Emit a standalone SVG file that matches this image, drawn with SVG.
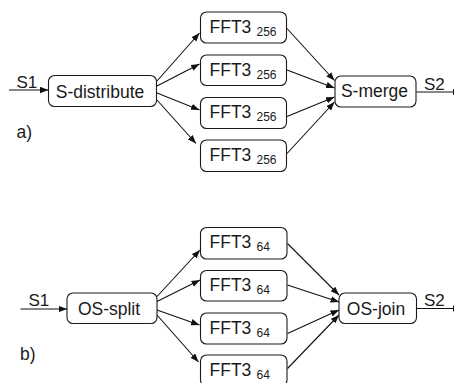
<svg xmlns="http://www.w3.org/2000/svg" width="454" height="383" viewBox="0 0 454 383">
<defs>
<style>
.box{fill:#fff;stroke:#1a1a1a;stroke-width:1.1}
.t{font-family:"Liberation Sans",Arial,sans-serif;font-size:17.5px;fill:#1a1a1a}
.s{font-size:12px}
.c line{stroke:#111;stroke-width:1.1;marker-end:url(#ah)}
</style>
<marker id="ah" markerUnits="userSpaceOnUse" markerWidth="9" markerHeight="7" refX="8.5" refY="3.25" orient="auto">
<path d="M0,0 L8.5,3.25 L0,6.5 z" fill="#111"/>
</marker>
</defs>
<rect width="454" height="383" fill="#fff"/>

<g class="c" id="connectors">
<line x1="9" y1="90" x2="48.5" y2="90"/>
<line x1="157" y1="81" x2="199.5" y2="33"/>
<line x1="157" y1="86" x2="199.5" y2="64"/>
<line x1="157" y1="93" x2="199.5" y2="110"/>
<line x1="157" y1="100" x2="196" y2="143.5"/>
<line x1="287" y1="28.5" x2="334.5" y2="80.5"/>
<line x1="287" y1="70" x2="334.5" y2="88"/>
<line x1="287" y1="116.5" x2="334.5" y2="97"/>
<line x1="287" y1="153.5" x2="334.5" y2="102"/>
<line x1="416.5" y1="92" x2="461" y2="92"/>

<line x1="20.5" y1="309" x2="67" y2="309"/>
<line x1="157" y1="296.5" x2="200" y2="250"/>
<line x1="157" y1="301.5" x2="200" y2="280"/>
<line x1="157" y1="310" x2="199.5" y2="325"/>
<line x1="157" y1="315" x2="198.5" y2="362"/>
<line x1="287.5" y1="243.5" x2="339" y2="295"/>
<line x1="287.5" y1="285" x2="339" y2="302"/>
<line x1="287.5" y1="333.5" x2="339" y2="310"/>
<line x1="287.5" y1="368.5" x2="339" y2="315"/>
<line x1="417" y1="308.5" x2="461" y2="308.5"/>
</g>

<g id="labels">
<text class="t" x="16.5" y="87.5" style="font-size:17px">S1</text>
<text class="t" x="424" y="89.5" style="font-size:17px">S2</text>
<text class="t" x="16.5" y="138">a)</text>
<text class="t" x="28.5" y="306" style="font-size:17px">S1</text>
<text class="t" x="424" y="306" style="font-size:17px">S2</text>
<text class="t" x="20" y="360">b)</text>
</g>

<g id="s-distribute"><rect class="box" x="48.5" y="75.5" width="108" height="31" rx="6"/><text class="t" x="100" y="97.5" text-anchor="middle">S-distribute</text></g>
<g id="fft256-1"><rect class="box" x="200.5" y="12" width="86" height="31" rx="6"/><text class="t" x="209.5" y="32.5">FFT3<tspan class="s" x="256.5" dy="3.4">256</tspan></text></g>
<g id="fft256-2"><rect class="box" x="200.5" y="55" width="86" height="30.5" rx="6"/><text class="t" x="209.5" y="75.5">FFT3<tspan class="s" x="256.5" dy="3.4">256</tspan></text></g>
<g id="fft256-3"><rect class="box" x="200.5" y="97.5" width="86" height="31" rx="6"/><text class="t" x="209.5" y="118">FFT3<tspan class="s" x="256.5" dy="3.4">256</tspan></text></g>
<g id="fft256-4"><rect class="box" x="200.5" y="140" width="86" height="31.5" rx="6"/><text class="t" x="209.5" y="160.5">FFT3<tspan class="s" x="256.5" dy="3.4">256</tspan></text></g>
<g id="s-merge"><rect class="box" x="335" y="76" width="81" height="31" rx="6"/><text class="t" x="374.5" y="97" text-anchor="middle">S-merge</text></g>

<g id="os-split"><rect class="box" x="67" y="293" width="90" height="30.5" rx="6"/><text class="t" x="109" y="314.5" text-anchor="middle">OS-split</text></g>
<g id="fft64-1"><rect class="box" x="200.5" y="227.5" width="86.5" height="31.5" rx="6"/><text class="t" x="209.5" y="248">FFT3<tspan class="s" x="256.5" dy="3.4">64</tspan></text></g>
<g id="fft64-2"><rect class="box" x="200.5" y="270.5" width="86.5" height="30.5" rx="6"/><text class="t" x="209.5" y="291">FFT3<tspan class="s" x="256.5" dy="3.4">64</tspan></text></g>
<g id="fft64-3"><rect class="box" x="200.5" y="313" width="86.5" height="31" rx="6"/><text class="t" x="209.5" y="333.5">FFT3<tspan class="s" x="256.5" dy="3.4">64</tspan></text></g>
<g id="fft64-4"><rect class="box" x="200.5" y="355" width="86.5" height="31" rx="6"/><text class="t" x="209.5" y="375.5">FFT3<tspan class="s" x="256.5" dy="3.4">64</tspan></text></g>
<g id="os-join"><rect class="box" x="339" y="293" width="77.5" height="30.5" rx="6"/><text class="t" x="376" y="314.5" text-anchor="middle">OS-join</text></g>
</svg>
